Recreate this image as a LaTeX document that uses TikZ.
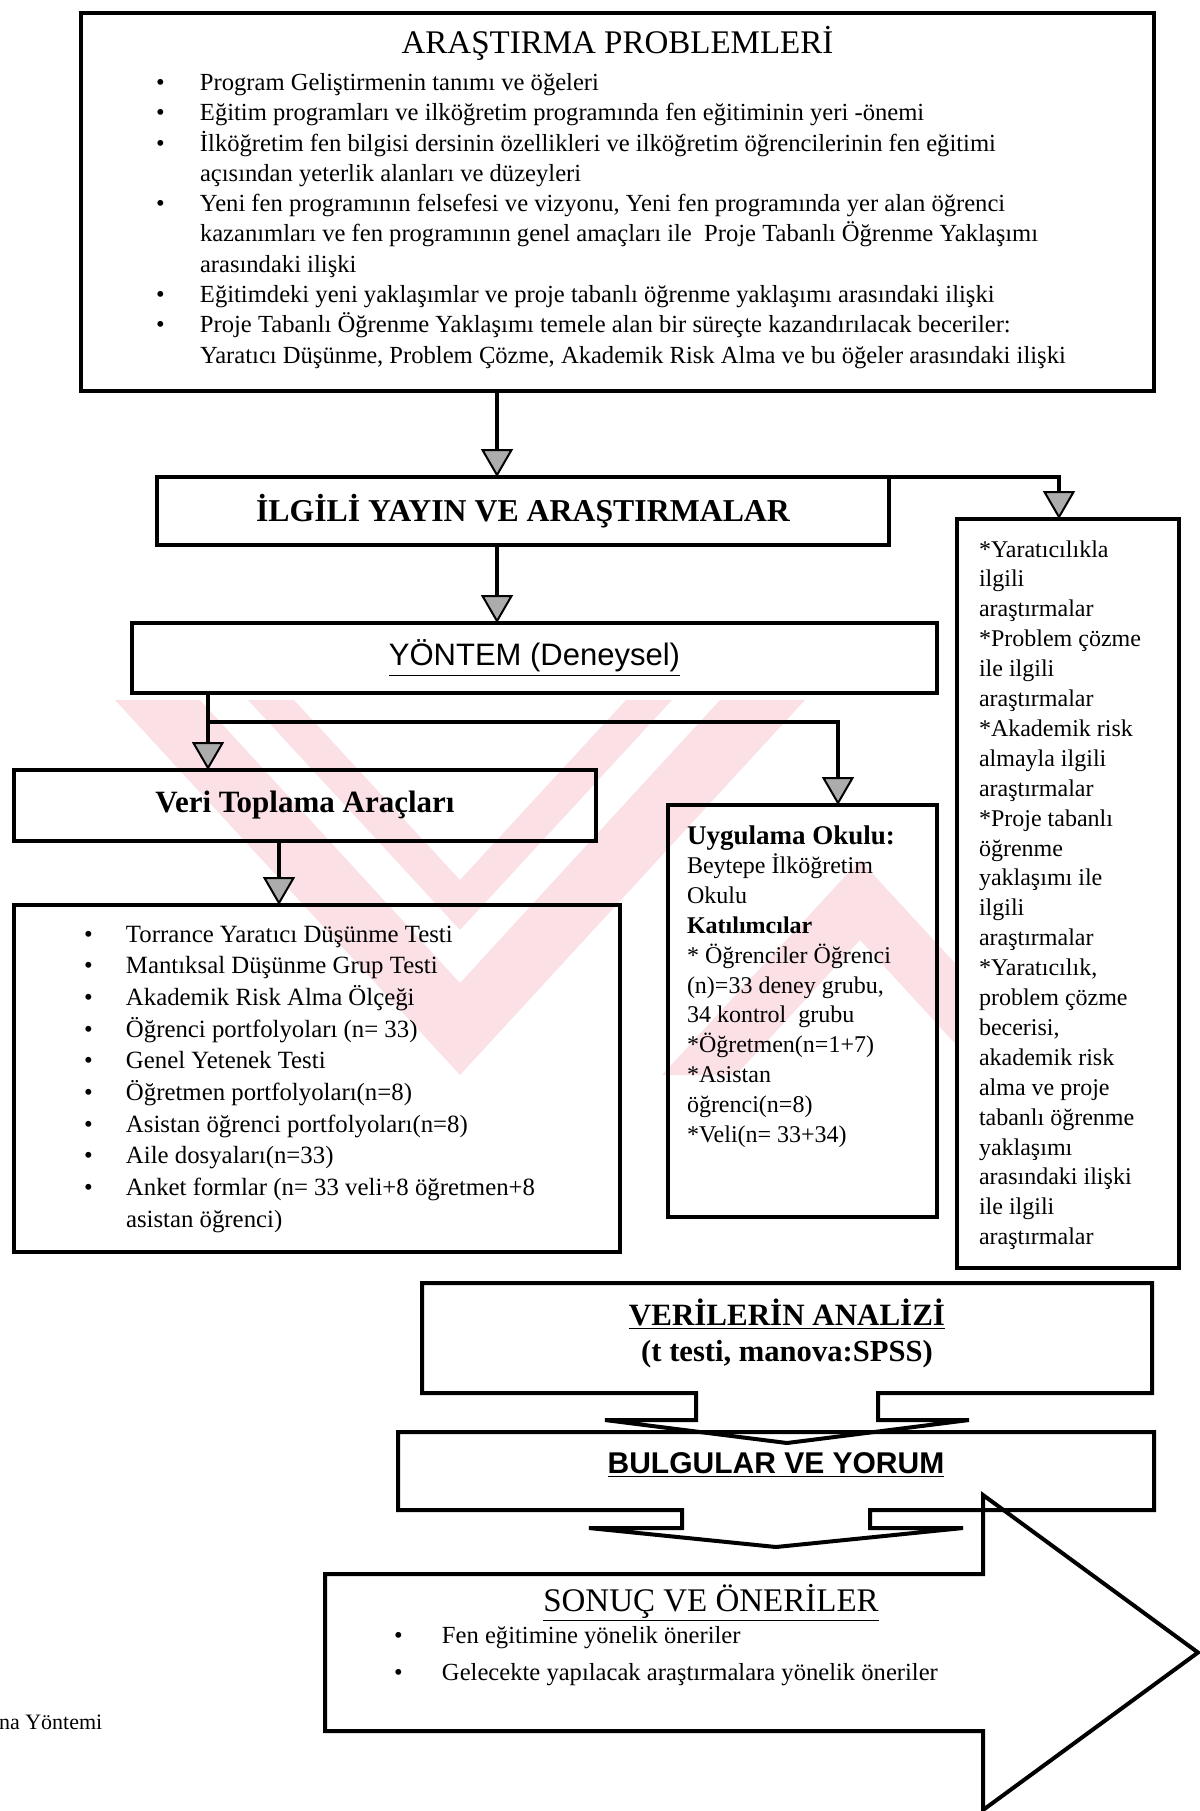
\documentclass[tikz,border=0pt]{standalone}
\usepackage{fontspec}
\setmainfont{Liberation Serif}
\setsansfont{Liberation Sans}
\usetikzlibrary{arrows.meta,positioning,calc}

\definecolor{filigran}{RGB}{251,224,229}

\begin{document}
\begin{tikzpicture}[
  x=1pt, y=1pt,
  font=\fontsize{12}{15}\selectfont,
  >={Triangle[width=16pt,length=14pt,fill=gray!65,line width=1pt]},
  kutu/.style={draw, line width=2pt, inner sep=0pt, outer sep=0pt, anchor=north west},
  bos/.style={inner sep=0pt, outer sep=0pt, anchor=north west, align=center},
  metin/.style={inner sep=0pt, outer sep=0pt},
  ok/.style={->, line width=2pt},
  cerceve/.style={line width=2pt, line join=miter},
]
\useasboundingbox (0,0) rectangle (600,-905.5);

% filigran
\begin{scope}[x=0.5pt, y=-0.5pt]
  \clip (110,700) rectangle (955,1075);
  \fill[filigran] (115,700) -- (200,700) -- (460,983) -- (720,700) -- (805,700) -- (460,1075) -- cycle;
  \fill[filigran] (248,700) -- (294,700) -- (460,880) -- (626,700) -- (672,700) -- (460,930) -- cycle;
  \fill[filigran] (662,1075) -- (860,860) -- (1058,1075) -- (984,1075) -- (860,940) -- (736,1075) -- cycle;
\end{scope}

% kutular
\node[kutu, minimum width=536.5pt, minimum height=189pt] (sorun) at (40.5,-6.5) {};
\node[kutu, minimum width=366pt, minimum height=34pt, font=\fontsize{15.9}{18}\selectfont\bfseries] (ilgili) at (78.5,-238.5) {İLGİLİ YAYIN VE ARAŞTIRMALAR};
\node[kutu, minimum width=402.5pt, minimum height=35pt, font=\sffamily\fontsize{15.5}{18}\selectfont] (yontem) at (66,-311.5) {\underline{YÖNTEM (Deneysel)}};
\node[kutu, minimum width=291pt, minimum height=35.5pt, font=\fontsize{15.5}{18}\selectfont\bfseries] (veri) at (7,-385) {Veri Toplama Araçları};
\node[kutu, minimum width=303pt, minimum height=173.5pt] (liste) at (7,-452.5) {};
\node[kutu, minimum width=134.5pt, minimum height=206pt] (uygulama) at (334,-402.5) {};
\node[kutu, minimum width=111pt, minimum height=374.5pt] (sag) at (478.5,-259.5) {};

\node[bos, minimum width=365pt, minimum height=55pt] (analiz) at (211,-641.5) {};
\draw[cerceve] (analiz.south west) -- (analiz.north west) -- (analiz.north east) -- (analiz.south east)
  -- ($(analiz.south)+(45.5,0)$) -- ++(0,-13.5) -- ++(45.5,0) -- ($(analiz.south)+(0,-25)$)
  -- ($(analiz.south)+(-91,-13.5)$) -- ++(45.5,0) -- ++(0,13.5) -- cycle;

\node[bos, minimum width=378pt, minimum height=39pt] (bulgu) at (199,-716) {};
\draw[cerceve] (bulgu.south west) -- (bulgu.north west) -- (bulgu.north east) -- (bulgu.south east)
  -- ($(bulgu.south)+(47,0)$) -- ++(0,-9) -- ++(46.5,0) -- ($(bulgu.south)+(0,-18.5)$)
  -- ($(bulgu.south)+(-93.5,-9)$) -- ++(46.5,0) -- ++(0,9) -- cycle;

\node[bos, minimum width=329pt, minimum height=78.5pt] (sonuc) at (162.5,-787) {};
\draw[cerceve] (sonuc.south west) -- (sonuc.north west) -- (sonuc.north east) -- ++(0,39.5)
  -- ($(sonuc.east)+(107.5,0)$) -- ($(sonuc.south east)+(0,-39.5)$) -- (sonuc.south east) -- cycle;

% metinler
\node[metin, below=20pt of sorun.north, anchor=base, font=\fontsize{16.5}{20}\selectfont] (sorunbaslik) {ARAŞTIRMA PROBLEMLERİ};
\node[metin, below right=38.7pt and 37.5pt of sorun.north west, anchor=base west, font=\fontsize{12.3}{15.15}\selectfont] (sorunlar) {%
\begin{tabular}[t]{@{}p{22pt}@{}l@{}}
\textbullet & Program Geliştirmenin tanımı ve öğeleri\\
\textbullet & Eğitim programları ve ilköğretim programında fen eğitiminin yeri -önemi\\
\textbullet & İlköğretim fen bilgisi dersinin özellikleri ve ilköğretim öğrencilerinin fen eğitimi\\
 & açısından yeterlik alanları ve düzeyleri\\
\textbullet & Yeni fen programının felsefesi ve vizyonu, Yeni fen programında yer alan öğrenci\\
 & kazanımları ve fen programının genel amaçları ile\ \ Proje Tabanlı Öğrenme Yaklaşımı\\
 & arasındaki ilişki\\
\textbullet & Eğitimdeki yeni yaklaşımlar ve proje tabanlı öğrenme yaklaşımı arasındaki ilişki\\
\textbullet & Proje Tabanlı Öğrenme Yaklaşımı temele alan bir süreçte kazandırılacak beceriler:\\
 & Yaratıcı Düşünme, Problem Çözme, Akademik Risk Alma ve bu öğeler arasındaki ilişki
\end{tabular}};

\node[metin, below right=18.5pt and 35pt of liste.north west, anchor=base west, font=\fontsize{12.4}{15.85}\selectfont] (araclar) {%
\begin{tabular}[t]{@{}p{21pt}@{}l@{}}
\textbullet & Torrance Yaratıcı Düşünme Testi\\
\textbullet & Mantıksal Düşünme Grup Testi\\
\textbullet & Akademik Risk Alma Ölçeği\\
\textbullet & Öğrenci portfolyoları (n= 33)\\
\textbullet & Genel Yetenek Testi\\
\textbullet & Öğretmen portfolyoları(n=8)\\
\textbullet & Asistan öğrenci portfolyoları(n=8)\\
\textbullet & Aile dosyaları(n=33)\\
\textbullet & Anket formlar (n= 33 veli+8 öğretmen+8\\
 & asistan öğrenci)
\end{tabular}};

\node[metin, below right=19.5pt and 9.5pt of uygulama.north west, anchor=base west, font=\fontsize{12}{14.9}\selectfont] (okul) {%
\begin{tabular}[t]{@{}l@{}}
{\fontsize{13.5}{14.9}\selectfont\bfseries Uygulama Okulu:}\\
Beytepe İlköğretim\\
Okulu\\
\textbf{Katılımcılar}\\
{*} Öğrenciler Öğrenci\\
(n)=33 deney grubu,\\
34 kontrol\ \ grubu\\
{*}Öğretmen(n=1+7)\\
{*}Asistan\\
öğrenci(n=8)\\
{*}Veli(n= 33+34)
\end{tabular}};

\node[metin, below right=19pt and 11pt of sag.north west, anchor=base west, font=\fontsize{12}{14.95}\selectfont] (yayinlar) {%
\begin{tabular}[t]{@{}l@{}}
{*}Yaratıcılıkla\\
ilgili\\
araştırmalar\\
{*}Problem çözme\\
ile ilgili\\
araştırmalar\\
{*}Akademik risk\\
almayla ilgili\\
araştırmalar\\
{*}Proje tabanlı\\
öğrenme\\
yaklaşımı ile\\
ilgili\\
araştırmalar\\
{*}Yaratıcılık,\\
problem çözme\\
becerisi,\\
akademik risk\\
alma ve proje\\
tabanlı öğrenme\\
yaklaşımı\\
arasındaki ilişki\\
ile ilgili\\
araştırmalar
\end{tabular}};

\node[metin, below=21pt of analiz.north, anchor=base, font=\fontsize{15.5}{18}\selectfont\bfseries] (analizbaslik) {\underline{VERİLERİN ANALİZİ}};
\node[metin, below=18pt of analizbaslik.base, anchor=base, font=\fontsize{15.3}{18}\selectfont\bfseries] (analizyontem) {(t testi, manova:SPSS)};
\node[metin, below=20.5pt of bulgu.north, anchor=base, font=\sffamily\bfseries\fontsize{15}{18}\selectfont] (bulgubaslik) {\underline{BULGULAR VE YORUM}};

\node[metin, below right=18.5pt and 193pt of sonuc.north west, anchor=base, font=\fontsize{16.5}{20}\selectfont] (sonucbaslik) {\underline{SONUÇ VE ÖNERİLER}};
\node[metin, below right=34.5pt and 34.5pt of sonuc.north west, anchor=base west, font=\fontsize{12.3}{18.5}\selectfont] (oneriler) {%
\begin{tabular}[t]{@{}p{24pt}@{}l@{}}
\textbullet & Fen eğitimine yönelik öneriler\\
\textbullet & Gelecekte yapılacak araştırmalara yönelik öneriler
\end{tabular}};

\node[metin, anchor=base west, font=\fontsize{11}{13}\selectfont] (kesik) at (-0.5,-864.5) {na Yöntemi};

% oklar
\coordinate (hat1) at (248.5,0);
\coordinate (hat2) at (104,0);
\coordinate (hat3) at (419,0);
\coordinate (hat4) at (139.5,0);
\coordinate (hat5) at (529.5,0);
\coordinate (dal) at (104,-361);
\draw[ok] (sorun.south -| hat1) -- (ilgili.north -| hat1);
\draw[ok] (ilgili.south -| hat1) -- (yontem.north -| hat1);
\draw[ok] (ilgili.north east) -| (sag.north -| hat5);
\draw[ok] (yontem.south -| hat2) -- (veri.north -| hat2);
\draw[ok] (dal) -| (uygulama.north -| hat3);
\draw[ok] (veri.south -| hat4) -- (liste.north -| hat4);
\end{tikzpicture}
\end{document}
